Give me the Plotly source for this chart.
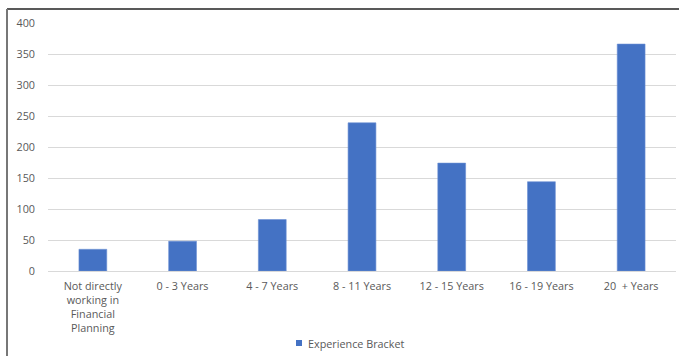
import plotly.graph_objects as go

categories = ["Not directly<br>working in<br>Financial<br>Planning", "0 - 3 Years", "4 - 7 Years",
              "8 - 11 Years", "12 - 15 Years", "16 - 19 Years", "20  + Years"]
values = [35, 48, 83, 239, 174, 144, 366]
series_name = "Experience Bracket"
y_ticks = [0, 50, 100, 150, 200, 250, 300, 350, 400]

W, H = 679, 356
L, R, T, B = 48, 3, 23, 85
pw, ph = W - L - R, H - T - B

def px_x(x):
    return (x - L) / pw

def px_y(y):
    return 1 - (y - T) / ph

BAR = "#4472C4"
fig = go.Figure()
fig.add_trace(go.Bar(
    x=categories, y=values, name=series_name,
    marker=dict(color=BAR, line=dict(width=0.6, color="#6A8FD4")),
    showlegend=False,
))

font = dict(family="Open Sans, Liberation Sans, sans-serif", size=10.8, color="#595959")

fig.update_layout(
    width=W, height=H,
    margin=dict(l=L, r=R, t=T, b=B, pad=0),
    paper_bgcolor="white", plot_bgcolor="white",
    font=font,
    bargap=0.69,
    showlegend=False,
    xaxis=dict(showgrid=False, showline=False, ticks="", tickfont=font, tickangle=0,
               ticklabelstandoff=7, automargin=False),
    yaxis=dict(range=[0, 400], tickvals=y_ticks, showgrid=True, gridcolor="#D9D9D9",
               gridwidth=1, zeroline=True, zerolinecolor="#D9D9D9", zerolinewidth=1,
               showline=False, ticks="", ticklabelstandoff=12, tickfont=font, automargin=False),
    annotations=[
        dict(text=series_name, xref="paper", yref="paper", x=px_x(306), y=px_y(343),
             xanchor="left", yanchor="middle", showarrow=False, font=font),
    ],
    shapes=[
        # legend key
        dict(type="rect", xref="paper", yref="paper", x0=px_x(296), x1=px_x(302),
             y0=px_y(340), y1=px_y(346), fillcolor=BAR, line=dict(width=0)),
        # frame
        dict(type="line", xref="paper", yref="paper", x0=px_x(7), x1=px_x(W + 5),
             y0=px_y(9), y1=px_y(9), line=dict(color="#222222", width=1.5)),
        dict(type="line", xref="paper", yref="paper", x0=px_x(7), x1=px_x(7),
             y0=px_y(9), y1=px_y(H + 5), line=dict(color="#777777", width=2)),
    ],
)

fig.write_html("out.html")
